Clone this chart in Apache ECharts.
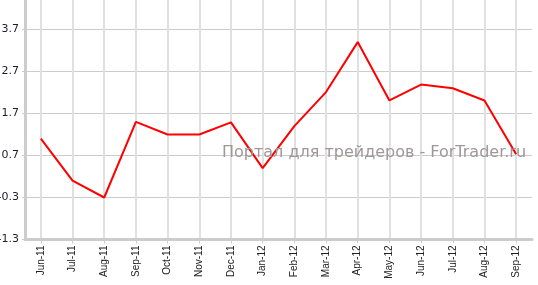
<!DOCTYPE html>
<html>
<head>
<meta charset="utf-8">
<script src="https://cdn.jsdelivr.net/npm/echarts@6/dist/echarts.min.js"></script>
<style>
html,body{margin:0;padding:0;background:#fff;}
#chart{width:538px;height:285px;}
</style>
</head>
<body>
<div id="chart"></div>
<script>
const categories = ['Jun-11','Jul-11','Aug-11','Sep-11','Oct-11','Nov-11','Dec-11','Jan-12','Feb-12','Mar-12','Apr-12','May-12','Jun-12','Jul-12','Aug-12','Sep-12'];
const values = [1.1, 0.1, -0.3, 1.5, 1.2, 1.2, 1.49, 0.4, 1.4, 2.21, 3.4, 2.01, 2.39, 2.3, 2.01, 0.73];
const yMin = -1.3;
const yMax = 4.7;
const yStep = 1;
const watermark = 'Портал для трейдеров - ForTrader.ru';

const chart = echarts.init(document.getElementById('chart'), null, {renderer: 'canvas'});
chart.setOption({
  animation: false,
  backgroundColor: '#ffffff',
  grid: {left: 25, right: 6, top: -12.5, bottom: 45.5, containLabel: false, outerBoundsMode: 'none'},
  xAxis: {
    type: 'category',
    data: categories,
    boundaryGap: true,
    axisLine: {show: true, onZero: false, lineStyle: {color: '#cccccc', width: 3}},
    axisTick: {show: true, alignWithLabel: true, length: 4, lineStyle: {color: '#cccccc', width: 1}},
    axisLabel: {rotate: 90, fontSize: 10, color: '#222', fontFamily: 'Liberation Sans, Arial, sans-serif', margin: 6, interval: 0},
    splitLine: {show: true, alignWithLabel: true, lineStyle: {color: '#e0e0e0', width: 2}}
  },
  yAxis: {
    type: 'value',
    min: yMin,
    max: yMax,
    interval: yStep,
    axisLine: {show: true, lineStyle: {color: '#cccccc', width: 3}},
    axisTick: {show: true, length: 3, lineStyle: {color: '#cccccc', width: 1}},
    axisLabel: {fontSize: 11, color: '#1c1c30', fontFamily: '"DejaVu Sans", sans-serif', margin: 6,
      formatter: v => v.toFixed(1)},
    splitLine: {show: true, lineStyle: {color: '#cccccc', width: 1}}
  },
  series: [{
    type: 'line',
    data: values,
    showSymbol: false,
    symbol: 'none',
    lineStyle: {color: '#ff0000', width: 2},
    itemStyle: {color: '#ff0000'},
    z: 3
  }],
  graphic: [{
    type: 'text',
    left: 222,
    top: 145,
    z: 100,
    style: {
      text: watermark,
      fill: '#a09898',
      font: '16px "DejaVu Sans", sans-serif'
    }
  }]
});
</script>
</body>
</html>
